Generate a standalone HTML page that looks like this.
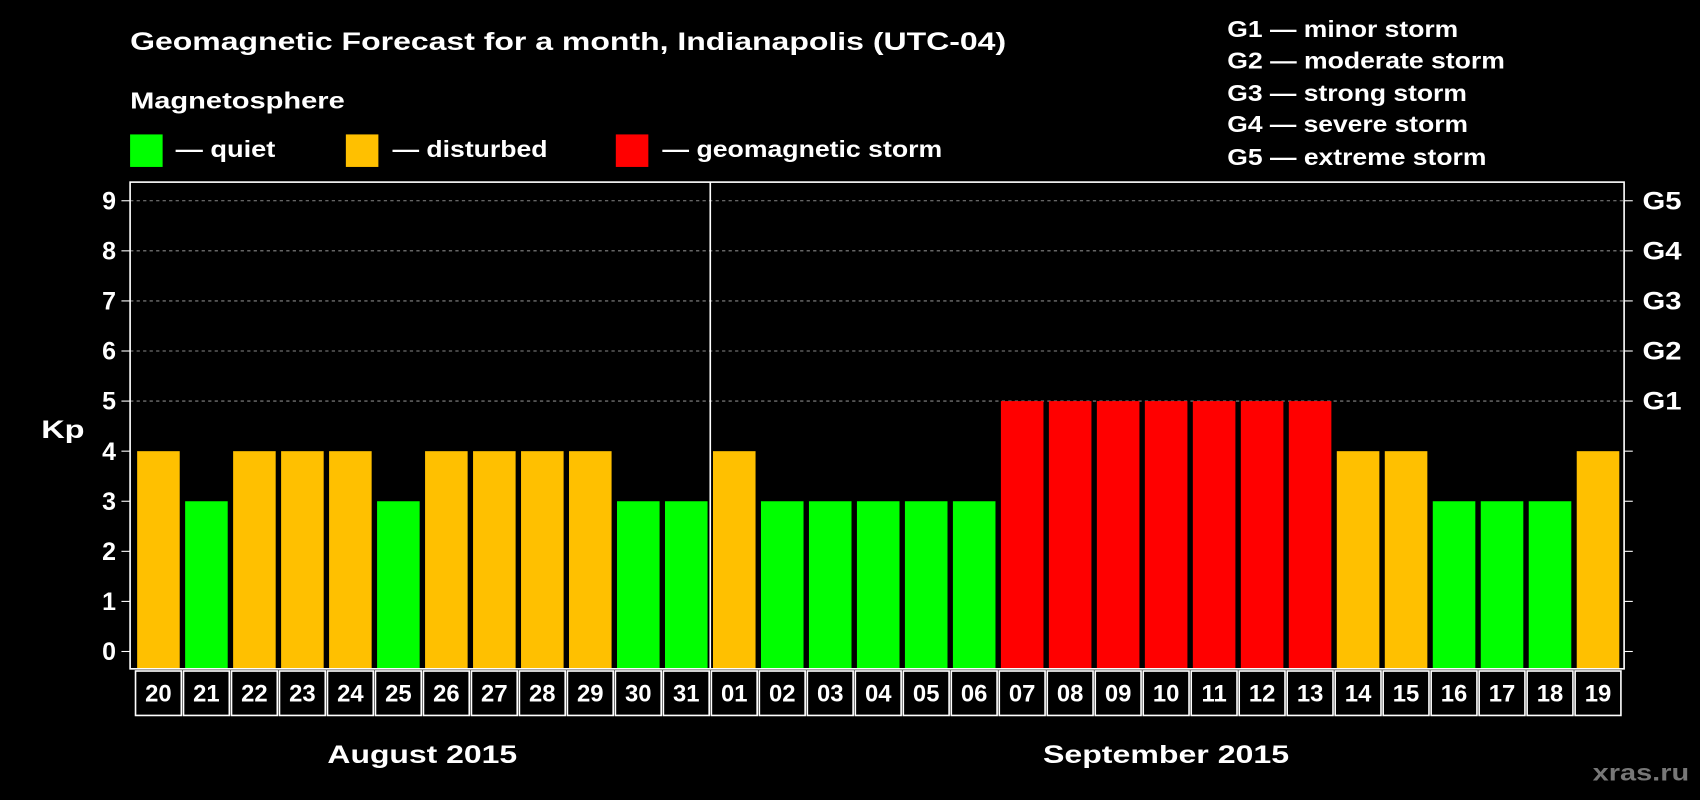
<!DOCTYPE html>
<html><head><meta charset="utf-8"><style>
html,body{margin:0;padding:0;background:#000;width:1700px;height:800px;overflow:hidden}
svg{display:block}
text{font-family:"Liberation Sans",Arial,sans-serif;font-weight:bold;fill:#fff}
</style></head><body>
<svg id="chart" width="1700" height="800" viewBox="0 0 1568 738" preserveAspectRatio="none">
<rect x="0" y="0" width="1568" height="738" fill="#000"/>
<text x="120" y="46" font-size="23" textLength="808" lengthAdjust="spacingAndGlyphs">Geomagnetic Forecast for a month, Indianapolis (UTC-04)</text>
<text x="120" y="100" font-size="21" textLength="198" lengthAdjust="spacingAndGlyphs">Magnetosphere</text>
<g><rect x="120" y="124" width="30" height="30" fill="#00ff00"/><text x="162" y="145" font-size="21" textLength="92" lengthAdjust="spacingAndGlyphs">— quiet</text></g>
<g><rect x="319" y="124" width="30" height="30" fill="#ffc000"/><text x="362" y="145" font-size="21" textLength="143" lengthAdjust="spacingAndGlyphs">— disturbed</text></g>
<g><rect x="568" y="124" width="30" height="30" fill="#ff0000"/><text x="611" y="145" font-size="21" textLength="258" lengthAdjust="spacingAndGlyphs">— geomagnetic storm</text></g>
<g font-size="21">
<text x="1132" y="34" textLength="213" lengthAdjust="spacingAndGlyphs">G1 — minor storm</text>
<text x="1132" y="63" textLength="256" lengthAdjust="spacingAndGlyphs">G2 — moderate storm</text>
<text x="1132" y="93" textLength="221" lengthAdjust="spacingAndGlyphs">G3 — strong storm</text>
<text x="1132" y="122" textLength="222" lengthAdjust="spacingAndGlyphs">G4 — severe storm</text>
<text x="1132" y="152" textLength="239" lengthAdjust="spacingAndGlyphs">G5 — extreme storm</text>
</g>
<text x="38" y="404" font-size="23" textLength="40" lengthAdjust="spacingAndGlyphs">Kp</text>
<g id="plot"></g>
<text x="302" y="704" font-size="23" textLength="175" lengthAdjust="spacingAndGlyphs">August 2015</text>
<text x="962" y="704" font-size="23" textLength="227" lengthAdjust="spacingAndGlyphs">September 2015</text>
<text x="1469" y="720" font-size="21" textLength="89" lengthAdjust="spacingAndGlyphs" style="fill:#777">xras.ru</text>
</svg>
<script>
const days=["20","21","22","23","24","25","26","27","28","29","30","31","01","02","03","04","05","06","07","08","09","10","11","12","13","14","15","16","17","18","19"];
const kpValues=[4,3,4,4,4,3,4,4,4,4,3,3,4,3,3,3,3,3,5,5,5,5,5,5,5,4,4,3,3,3,4];
const yTicks=[0,1,2,3,4,5,6,7,8,9];
const gLabels=["G1","G2","G3","G4","G5"];
const NS="http://www.w3.org/2000/svg";
const g=document.getElementById('plot');
const X0=124,CW=44.26,PL=120,PR=1498,PT=168,PB=617;
const y=v=>601-v*46.2;
const x=i=>X0+i*CW;
function mk(t,a){const e=document.createElementNS(NS,t);for(const k in a)e.setAttribute(k,a[k]);g.appendChild(e);return e;}
const col=v=>v>=5?"#ff0000":(v>=4?"#ffc000":"#00ff00");
yTicks.forEach(v=>{
 if(v>=5){const l=mk('line',{x1:PL,x2:PR,y1:y(v),y2:y(v),stroke:'#888','stroke-dasharray':'3,3','stroke-width':1});
 
 }
 const t1=mk('line',{x1:PL-8,x2:PL,y1:y(v),y2:y(v),stroke:'#fff','stroke-width':1});
 
 
 const t2=mk('line',{x1:PR,x2:PR+8,y1:y(v),y2:y(v),stroke:'#fff','stroke-width':1});
 
 
 const tx=mk('text',{x:PL-13,y:y(v)+8,'font-size':23,'text-anchor':'end'});tx.textContent=v;
 
 
});
gLabels.forEach((s,i)=>{
 const tx=mk('text',{x:PR+17,y:y(5+i)+8,'font-size':23,textLength:36,lengthAdjust:'spacingAndGlyphs'});tx.textContent=s;
 
 
});
kpValues.forEach((v,i)=>{
 const r=mk('rect',{x:x(i)+2.5,y:y(v),width:CW-5,height:PB-y(v),fill:col(v)});
 
 
});
const fr=mk('rect',{x:PL,y:PT,width:PR-PL,height:PB-PT,fill:'none',stroke:'#fff','stroke-width':1.5});


const dv=mk('line',{x1:x(12),x2:x(12),y1:PT,y2:PB,stroke:'#fff','stroke-width':1.5});


days.forEach((d,i)=>{
 const b=mk('rect',{x:x(i)+1,y:619,width:CW-2,height:41,fill:'none',stroke:'#fff','stroke-width':1.5});
 
 
 const t=mk('text',{x:x(i)+CW/2,y:647,'font-size':22,'text-anchor':'middle'});t.textContent=d;
 
 
});
</script>
</body></html>
